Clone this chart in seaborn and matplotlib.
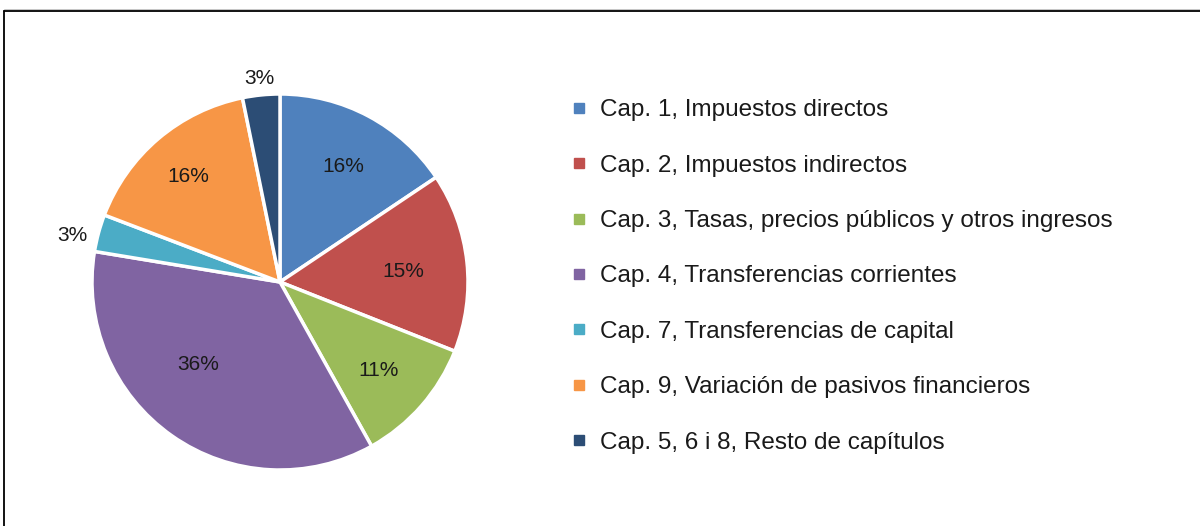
import numpy as np
import matplotlib
matplotlib.use("Agg")
import matplotlib.pyplot as plt
from matplotlib.lines import Line2D
import seaborn as sns

categories = [
    "Cap. 1, Impuestos directos",
    "Cap. 2, Impuestos indirectos",
    "Cap. 3, Tasas, precios públicos y otros ingresos",
    "Cap. 4, Transferencias corrientes",
    "Cap. 7, Transferencias de capital",
    "Cap. 9, Variación de pasivos financieros",
    "Cap. 5, 6 i 8, Resto de capítulos",
]
shares = [15.6, 15.4, 10.9, 35.7, 3.2, 16.0, 3.2]
colors = ["#4F81BD", "#C0504D", "#9BBB59", "#8064A2", "#4BACC6", "#F79646", "#2C4D75"]
label_dist = [0.71, 0.66, 0.70, 0.61, 1.135, 0.75, 1.10]
label_turn = [0.0, 0.0, 0.0, -10.6, 1.8, 0.0, 0.0]

sns.set_theme(style="white")
plt.rcParams['font.family'] = ['Liberation Sans', 'DejaVu Sans']
text_color = "#1a1a1a"

W, H = 1200, 526
fig = plt.figure(figsize=(W / 100, H / 100), dpi=100)
fig.patch.set_facecolor("white")

cx, cy, r = 280, 282, 188
ax = fig.add_axes([(cx - r) / W, (H - cy - r) / H, 2 * r / W, 2 * r / H])
wedges, _ = ax.pie(shares, colors=colors, startangle=90, counterclock=False,
                   radius=1, wedgeprops=dict(edgecolor="white", linewidth=2.5))
ax.set_xlim(-1, 1)
ax.set_ylim(-1, 1)
ax.set_aspect("equal")
ax.axis("off")

total = sum(shares)
start = 90.0
for v, d, t in zip(shares, label_dist, label_turn):
    span = 360.0 * v / total
    mid = np.deg2rad(start - span / 2 + t)
    start -= span
    ax.text(d * np.cos(mid), d * np.sin(mid) - 0.012, f"{round(v / total * 100):.0f}%",
            ha="center", va="center", fontsize=15, color=text_color, clip_on=False)

handles = [Line2D([0], [0], marker="s", linestyle="none", markersize=7,
                  markerfacecolor=c, markeredgecolor=c) for c in colors]
fig.legend(handles, categories, loc="upper left",
           bbox_to_anchor=(560 / W, 1 - 87 / H), frameon=False,
           fontsize=17.5, labelcolor=text_color, handlelength=0.55,
           handletextpad=0.6, labelspacing=1.375, borderpad=0)

# chart frame
fig.add_artist(Line2D([4 / W, 1], [1 - 11 / H, 1 - 11 / H], transform=fig.transFigure,
                      color="black", linewidth=1.3))
fig.add_artist(Line2D([4 / W, 4 / W], [0, 1 - 11 / H], transform=fig.transFigure,
                      color="black", linewidth=1.3))
fig.add_artist(Line2D([4 / W, 1], [1 - 9 / H, 1 - 9 / H], transform=fig.transFigure,
                      color="#bbbbbb", linewidth=0.6))

fig.savefig("out.png", dpi=100, facecolor="white")
